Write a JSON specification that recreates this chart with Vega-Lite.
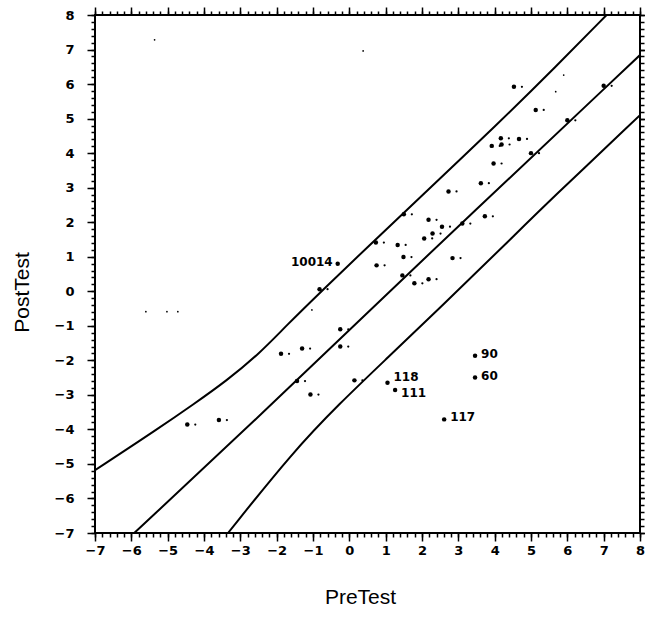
{
  "$schema": "https://vega.github.io/schema/vega-lite/v6.json",
  "width": 545,
  "height": 518,
  "autosize": {"type": "none"},
  "padding": {"left": 95, "top": 15, "right": 5, "bottom": 87},
  "background": "white",
  "config": {
    "view": {"stroke": "black", "strokeWidth": 2},
    "font": "Liberation Sans",
    "axis": {
      "domain": false,
      "grid": false,
      "tickColor": "black",
      "tickWidth": 1.5,
      "labelColor": "black",
      "labelFont": "DejaVu Sans",
      "labelFontWeight": "bold",
      "labelFontSize": 13,
      "titleFont": "Liberation Sans",
      "titleFontWeight": "normal",
      "titleFontSize": 21,
      "titleColor": "black"
    }
  },
  "datasets": {
    "curves": [
      {"band": "upper", "PreTest": -7.0, "PostTest": -5.18},
      {"band": "upper", "PreTest": -5.22, "PostTest": -3.95},
      {"band": "upper", "PreTest": -4.3, "PostTest": -3.28},
      {"band": "upper", "PreTest": -3.39, "PostTest": -2.6},
      {"band": "upper", "PreTest": -2.47, "PostTest": -1.8},
      {"band": "upper", "PreTest": -1.74, "PostTest": -1.0},
      {"band": "upper", "PreTest": -0.73, "PostTest": 0.04},
      {"band": "upper", "PreTest": 0.55, "PostTest": 1.33},
      {"band": "upper", "PreTest": 1.88, "PostTest": 2.65},
      {"band": "upper", "PreTest": 4.12, "PostTest": 4.88},
      {"band": "upper", "PreTest": 5.68, "PostTest": 6.5},
      {"band": "upper", "PreTest": 7.08, "PostTest": 8.0},
      {"band": "fit", "PreTest": -5.92, "PostTest": -7.0},
      {"band": "fit", "PreTest": -2.47, "PostTest": -3.62},
      {"band": "fit", "PreTest": 1.46, "PostTest": 0.36},
      {"band": "fit", "PreTest": 8.0, "PostTest": 6.84},
      {"band": "lower", "PreTest": -3.34, "PostTest": -7.0},
      {"band": "lower", "PreTest": -1.56, "PostTest": -4.66},
      {"band": "lower", "PreTest": -0.27, "PostTest": -3.25},
      {"band": "lower", "PreTest": 1.0, "PostTest": -1.98},
      {"band": "lower", "PreTest": 2.75, "PostTest": -0.22},
      {"band": "lower", "PreTest": 4.4, "PostTest": 1.47},
      {"band": "lower", "PreTest": 5.49, "PostTest": 2.6},
      {"band": "lower", "PreTest": 8.0, "PostTest": 5.1}
    ],
    "points": [
      {"PreTest": 4.53, "PostTest": 5.92, "label": ""},
      {"PreTest": 5.13, "PostTest": 5.25, "label": ""},
      {"PreTest": 4.17, "PostTest": 4.43, "label": ""},
      {"PreTest": 4.67, "PostTest": 4.41, "label": ""},
      {"PreTest": 3.92, "PostTest": 4.21, "label": ""},
      {"PreTest": 4.19, "PostTest": 4.25, "label": ""},
      {"PreTest": 3.97, "PostTest": 3.7, "label": ""},
      {"PreTest": 3.62, "PostTest": 3.13, "label": ""},
      {"PreTest": 2.73, "PostTest": 2.89, "label": ""},
      {"PreTest": 1.5, "PostTest": 2.23, "label": ""},
      {"PreTest": 0.73, "PostTest": 1.41, "label": ""},
      {"PreTest": 1.33, "PostTest": 1.34, "label": ""},
      {"PreTest": 2.18, "PostTest": 2.07, "label": ""},
      {"PreTest": 2.55, "PostTest": 1.87, "label": ""},
      {"PreTest": 2.29, "PostTest": 1.67, "label": ""},
      {"PreTest": 2.06, "PostTest": 1.53, "label": ""},
      {"PreTest": 3.11, "PostTest": 1.96, "label": ""},
      {"PreTest": 3.73, "PostTest": 2.17, "label": ""},
      {"PreTest": 1.49, "PostTest": 0.99, "label": ""},
      {"PreTest": 0.75, "PostTest": 0.75, "label": ""},
      {"PreTest": 2.84, "PostTest": 0.96, "label": ""},
      {"PreTest": 1.46, "PostTest": 0.46, "label": ""},
      {"PreTest": 1.79, "PostTest": 0.23, "label": ""},
      {"PreTest": 2.18, "PostTest": 0.35, "label": ""},
      {"PreTest": -0.82, "PostTest": 0.06, "label": ""},
      {"PreTest": -0.25, "PostTest": -1.1, "label": ""},
      {"PreTest": -0.25, "PostTest": -1.6, "label": ""},
      {"PreTest": -1.3, "PostTest": -1.66, "label": ""},
      {"PreTest": -1.88, "PostTest": -1.81, "label": ""},
      {"PreTest": -1.44, "PostTest": -2.6, "label": ""},
      {"PreTest": -1.07, "PostTest": -2.99, "label": ""},
      {"PreTest": 0.14, "PostTest": -2.58, "label": ""},
      {"PreTest": -4.46, "PostTest": -3.86, "label": ""},
      {"PreTest": -3.59, "PostTest": -3.73, "label": ""},
      {"PreTest": 7.0, "PostTest": 5.95, "label": ""},
      {"PreTest": 6.0, "PostTest": 4.95, "label": ""},
      {"PreTest": 5.0, "PostTest": 4.0, "label": ""},
      {"PreTest": -0.32, "PostTest": 0.8, "label": "10014"},
      {"PreTest": 3.46, "PostTest": -1.87, "label": "90"},
      {"PreTest": 3.46, "PostTest": -2.5, "label": "60"},
      {"PreTest": 1.05, "PostTest": -2.65, "label": "118"},
      {"PreTest": 1.26, "PostTest": -2.86, "label": "111"},
      {"PreTest": 2.61, "PostTest": -3.71, "label": "117"}
    ],
    "specks": [
      {"PreTest": -5.6, "PostTest": -0.59},
      {"PreTest": -5.02, "PostTest": -0.59},
      {"PreTest": -4.72, "PostTest": -0.59},
      {"PreTest": -1.03, "PostTest": -0.54},
      {"PreTest": 5.68, "PostTest": 5.78},
      {"PreTest": 5.9, "PostTest": 6.26},
      {"PreTest": -5.36, "PostTest": 7.28},
      {"PreTest": 0.38, "PostTest": 6.96}
    ]
  },
  "layer": [
    {
      "data": {"name": "curves"},
      "mark": {"type": "line", "color": "black", "strokeWidth": 2, "interpolate": "basis", "clip": true},
      "encoding": {
        "x": {"field": "PreTest", "type": "quantitative",
          "scale": {"domain": [-7, 8], "nice": false, "zero": false},
          "axis": {"orient": "bottom", "values": [-7,-6,-5,-4,-3,-2,-1,0,1,2,3,4,5,6,7,8], "tickSize": 8, "labelPadding": 3, "labelFlush": false, "title": "PreTest", "titleX": 265, "titleY": 64, "titleBaseline": "middle", "titleAlign": "center"}},
        "y": {"field": "PostTest", "type": "quantitative",
          "scale": {"domain": [-7, 8], "nice": false, "zero": false},
          "axis": {"orient": "left", "values": [-7,-6,-5,-4,-3,-2,-1,0,1,2,3,4,5,6,7,8], "tickSize": 8, "labelPadding": 13, "labelFlush": false, "title": "PostTest", "titleX": -73, "titleY": 277, "titleAngle": -90, "titleBaseline": "middle", "titleAlign": "center"}},
        "detail": {"field": "band", "type": "nominal"}
      }
    },
    {
      "data": {"name": "points"},
      "mark": {"type": "circle", "color": "black", "opacity": 1, "size": 20},
      "encoding": {
        "x": {"field": "PreTest", "type": "quantitative",
          "axis": {"orient": "bottom", "values": [-7,-6.8,-6.6,-6.4,-6.2,-6,-5.8,-5.6,-5.4,-5.2,-5,-4.8,-4.6,-4.4,-4.2,-4,-3.8,-3.6,-3.4,-3.2,-3,-2.8,-2.6,-2.4,-2.2,-2,-1.8,-1.6,-1.4,-1.2,-1,-0.8,-0.6,-0.4,-0.2,0,0.2,0.4,0.6,0.8,1,1.2,1.4,1.6,1.8,2,2.2,2.4,2.6,2.8,3,3.2,3.4,3.6,3.8,4,4.2,4.4,4.6,4.8,5,5.2,5.4,5.6,5.8,6,6.2,6.4,6.6,6.8,7,7.2,7.4,7.6,7.8,8], "tickSize": 4, "labels": false, "title": null}},
        "y": {"field": "PostTest", "type": "quantitative",
          "axis": {"orient": "left", "values": [-7,-6.8,-6.6,-6.4,-6.2,-6,-5.8,-5.6,-5.4,-5.2,-5,-4.8,-4.6,-4.4,-4.2,-4,-3.8,-3.6,-3.4,-3.2,-3,-2.8,-2.6,-2.4,-2.2,-2,-1.8,-1.6,-1.4,-1.2,-1,-0.8,-0.6,-0.4,-0.2,0,0.2,0.4,0.6,0.8,1,1.2,1.4,1.6,1.8,2,2.2,2.4,2.6,2.8,3,3.2,3.4,3.6,3.8,4,4.2,4.4,4.6,4.8,5,5.2,5.4,5.6,5.8,6,6.2,6.4,6.6,6.8,7,7.2,7.4,7.6,7.8,8], "tickSize": 4, "labels": false, "title": null}}
      }
    },
    {
      "data": {"name": "points"},
      "transform": [{"filter": "datum.label == ''"}],
      "mark": {"type": "circle", "color": "black", "opacity": 1, "size": 5, "xOffset": 8},
      "encoding": {
        "x": {"field": "PreTest", "type": "quantitative",
          "axis": {"orient": "top", "values": [-7,-6,-5,-4,-3,-2,-1,0,1,2,3,4,5,6,7,8], "tickSize": 8, "labels": false, "title": null}},
        "y": {"field": "PostTest", "type": "quantitative",
          "axis": {"orient": "right", "values": [-7,-6,-5,-4,-3,-2,-1,0,1,2,3,4,5,6,7,8], "tickSize": 8, "labels": false, "title": null}}
      }
    },
    {
      "data": {"name": "points"},
      "transform": [{"filter": "datum.label == '90' || datum.label == '60' || datum.label == '117'"}],
      "mark": {"type": "text", "align": "left", "baseline": "middle", "dx": 6, "dy": -2, "font": "DejaVu Sans", "fontWeight": "bold", "fontSize": 12, "color": "black"},
      "encoding": {
        "x": {"field": "PreTest", "type": "quantitative",
          "axis": {"orient": "top", "values": [-7,-6.8,-6.6,-6.4,-6.2,-6,-5.8,-5.6,-5.4,-5.2,-5,-4.8,-4.6,-4.4,-4.2,-4,-3.8,-3.6,-3.4,-3.2,-3,-2.8,-2.6,-2.4,-2.2,-2,-1.8,-1.6,-1.4,-1.2,-1,-0.8,-0.6,-0.4,-0.2,0,0.2,0.4,0.6,0.8,1,1.2,1.4,1.6,1.8,2,2.2,2.4,2.6,2.8,3,3.2,3.4,3.6,3.8,4,4.2,4.4,4.6,4.8,5,5.2,5.4,5.6,5.8,6,6.2,6.4,6.6,6.8,7,7.2,7.4,7.6,7.8,8], "tickSize": 4, "labels": false, "title": null}},
        "y": {"field": "PostTest", "type": "quantitative",
          "axis": {"orient": "right", "values": [-7,-6.8,-6.6,-6.4,-6.2,-6,-5.8,-5.6,-5.4,-5.2,-5,-4.8,-4.6,-4.4,-4.2,-4,-3.8,-3.6,-3.4,-3.2,-3,-2.8,-2.6,-2.4,-2.2,-2,-1.8,-1.6,-1.4,-1.2,-1,-0.8,-0.6,-0.4,-0.2,0,0.2,0.4,0.6,0.8,1,1.2,1.4,1.6,1.8,2,2.2,2.4,2.6,2.8,3,3.2,3.4,3.6,3.8,4,4.2,4.4,4.6,4.8,5,5.2,5.4,5.6,5.8,6,6.2,6.4,6.6,6.8,7,7.2,7.4,7.6,7.8,8], "tickSize": 4, "labels": false, "title": null}},
        "text": {"field": "label", "type": "nominal"}
      }
    },
    {
      "data": {"name": "points"},
      "transform": [{"filter": "datum.label == '118'"}],
      "mark": {"type": "text", "align": "left", "baseline": "middle", "dx": 6, "dy": -6, "font": "DejaVu Sans", "fontWeight": "bold", "fontSize": 12, "color": "black"},
      "encoding": {
        "x": {"field": "PreTest", "type": "quantitative", "axis": null},
        "y": {"field": "PostTest", "type": "quantitative", "axis": null},
        "text": {"field": "label", "type": "nominal"}
      }
    },
    {
      "data": {"name": "points"},
      "transform": [{"filter": "datum.label == '111'"}],
      "mark": {"type": "text", "align": "left", "baseline": "middle", "dx": 6, "dy": 3, "font": "DejaVu Sans", "fontWeight": "bold", "fontSize": 12, "color": "black"},
      "encoding": {
        "x": {"field": "PreTest", "type": "quantitative", "axis": null},
        "y": {"field": "PostTest", "type": "quantitative", "axis": null},
        "text": {"field": "label", "type": "nominal"}
      }
    },
    {
      "data": {"name": "points"},
      "transform": [{"filter": "datum.label == '10014'"}],
      "mark": {"type": "text", "align": "right", "baseline": "middle", "dx": -5, "dy": -2, "font": "DejaVu Sans", "fontWeight": "bold", "fontSize": 12, "color": "black"},
      "encoding": {
        "x": {"field": "PreTest", "type": "quantitative", "axis": null},
        "y": {"field": "PostTest", "type": "quantitative", "axis": null},
        "text": {"field": "label", "type": "nominal"}
      }
    },
    {
      "data": {"name": "specks"},
      "mark": {"type": "circle", "color": "black", "opacity": 1, "size": 3},
      "encoding": {
        "x": {"field": "PreTest", "type": "quantitative", "axis": null},
        "y": {"field": "PostTest", "type": "quantitative", "axis": null}
      }
    }
  ],
  "resolve": {"axis": {"x": "independent", "y": "independent"}}
}
